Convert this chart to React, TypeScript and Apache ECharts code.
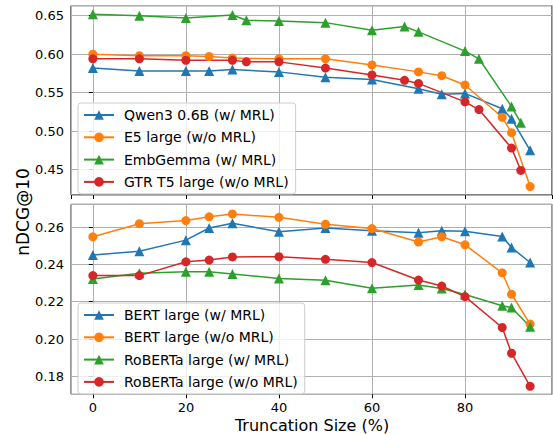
import React, { useEffect, useRef } from "react";
import * as echarts from "echarts";

// Top panel
const embGemmaX = [0, 10, 20, 30, 33, 40, 50, 60, 67, 70, 80, 83, 90, 92];
const embGemmaY = [0.652, 0.650, 0.647, 0.651, 0.644, 0.643, 0.641, 0.631, 0.636, 0.629, 0.604, 0.594, 0.532, 0.511];
const e5X = [0, 10, 20, 25, 30, 40, 50, 60, 70, 75, 80, 88, 90, 94];
const e5Y = [0.600, 0.598, 0.598, 0.597, 0.595, 0.594, 0.594, 0.586, 0.577, 0.572, 0.560, 0.518, 0.498, 0.428];
const gtrX = [0, 10, 20, 30, 33, 40, 50, 60, 67, 70, 80, 83, 90, 92];
const gtrY = [0.594, 0.594, 0.592, 0.592, 0.590, 0.590, 0.582, 0.573, 0.566, 0.562, 0.538, 0.528, 0.478, 0.449];
const qwenX = [0, 10, 20, 25, 30, 40, 50, 60, 70, 75, 80, 88, 90, 94];
const qwenY = [0.582, 0.578, 0.578, 0.578, 0.580, 0.577, 0.570, 0.567, 0.555, 0.548, 0.549, 0.529, 0.516, 0.475];

// Bottom panel
const bertX = [0, 10, 20, 25, 30, 40, 50, 60, 70, 75, 80, 88, 90, 94];
const bertMrlY = [0.245, 0.247, 0.253, 0.2595, 0.262, 0.2575, 0.2595, 0.258, 0.257, 0.258, 0.2578, 0.255, 0.249, 0.241];
const bertNoY = [0.2548, 0.2618, 0.2635, 0.2655, 0.267, 0.2652, 0.2615, 0.2592, 0.252, 0.2548, 0.2505, 0.2355, 0.224, 0.208];
const robertaMrlY = [0.2322, 0.2352, 0.236, 0.236, 0.2348, 0.2325, 0.2315, 0.2272, 0.2289, 0.2271, 0.2239, 0.2178, 0.2169, 0.2066];
const robertaNoY = [0.234, 0.234, 0.2414, 0.2423, 0.244, 0.2441, 0.2427, 0.241, 0.2316, 0.2284, 0.2227, 0.2062, 0.1924, 0.1747];

const topNames = ["Qwen3 0.6B (w/ MRL)", "E5 large (w/o MRL)", "EmbGemma (w/ MRL)", "GTR T5 large (w/o MRL)"];
const bottomNames = ["BERT large (w/ MRL)", "BERT large (w/o MRL)", "RoBERTa large (w/ MRL)", "RoBERTa large (w/o MRL)"];

const BLUE = "#1f77b4";
const ORANGE = "#ff7f0e";
const GREEN = "#2ca02c";
const RED = "#d62728";
const FONT = "DejaVu Sans";

function zip(xs: number[], ys: number[]) {
  return xs.map((x, i) => [x, ys[i]]);
}

function mkSeries(name: string, xs: number[], ys: number[], color: string, tri: boolean, idx: number) {
  return {
    type: "line",
    name,
    xAxisIndex: idx,
    yAxisIndex: idx,
    data: zip(xs, ys),
    symbol: tri ? "triangle" : "circle",
    symbolSize: tri ? 10 : 9,
    showAllSymbol: true,
    color,
    lineStyle: { color, width: 1.5 },
    itemStyle: { color, borderWidth: 0 },
  };
}

export default function App() {
  const ref = useRef<HTMLDivElement>(null);
  useEffect(() => {
    document.body.style.margin = "0";
    const chart = echarts.init(ref.current!, undefined, { renderer: "svg" });
    const gridLine = { show: true, lineStyle: { color: "#b0b0b0", width: 1 } };
    const tickStyle = { show: true, inside: false, length: 4, lineStyle: { color: "#000" } };
    const xCommon = {
      type: "value",
      min: -4.7,
      max: 98.7,
      splitLine: gridLine,
      axisLine: { show: false },
      axisTick: tickStyle,
    };
    const legendCommon = {
      orient: "vertical",
      left: 78,
      itemWidth: 30,
      itemHeight: 12,
      itemGap: 8.3,
      padding: [5, 7, 5, 5],
      backgroundColor: "rgba(255,255,255,0.8)",
      borderColor: "#cccccc",
      borderWidth: 1,
      borderRadius: 3,
      textStyle: { fontFamily: FONT, fontSize: 14, color: "#000", padding: [0, 0, 0, 5] },
    };
    chart.setOption({
      animation: false,
      grid: [
        { left: 71, top: 5.7, width: 481, height: 189.3, show: true, borderColor: "#000", borderWidth: 1, backgroundColor: "transparent" },
        { left: 71, top: 204.3, width: 481, height: 190, show: true, borderColor: "#333", borderWidth: 1, backgroundColor: "transparent" },
      ],
      xAxis: [
        { ...xCommon, gridIndex: 0, axisLabel: { show: false } },
        {
          ...xCommon,
          gridIndex: 1,
          axisLabel: {
            show: true,
            showMinLabel: false,
            showMaxLabel: false,
            fontFamily: FONT,
            fontSize: 13,
            lineHeight: 13,
            color: "#000",
            margin: 7,
          },
        },
      ],
      yAxis: [
        {
          type: "value",
          gridIndex: 0,
          min: 0.417,
          max: 0.663,
          splitLine: gridLine,
          axisLine: { show: false },
          axisTick: tickStyle,
          axisLabel: {
            showMinLabel: false,
            showMaxLabel: false,
            fontFamily: FONT,
            fontSize: 13,
            color: "#000",
            margin: 7,
            formatter: (v: number) => v.toFixed(2),
          },
        },
        {
          type: "value",
          gridIndex: 1,
          min: 0.1704,
          max: 0.2722,
          splitLine: gridLine,
          axisLine: { show: false },
          axisTick: tickStyle,
          axisLabel: {
            showMinLabel: false,
            showMaxLabel: false,
            fontFamily: FONT,
            fontSize: 13,
            color: "#000",
            margin: 7,
            formatter: (v: number) => v.toFixed(2),
          },
        },
      ],
      legend: [
        { ...legendCommon, top: 103, data: topNames },
        { ...legendCommon, top: 303, data: bottomNames },
      ],
      series: [
        mkSeries(topNames[0], qwenX, qwenY, BLUE, true, 0),
        mkSeries(topNames[1], e5X, e5Y, ORANGE, false, 0),
        mkSeries(topNames[2], embGemmaX, embGemmaY, GREEN, true, 0),
        mkSeries(topNames[3], gtrX, gtrY, RED, false, 0),
        mkSeries(bottomNames[0], bertX, bertMrlY, BLUE, true, 1),
        mkSeries(bottomNames[1], bertX, bertNoY, ORANGE, false, 1),
        mkSeries(bottomNames[2], bertX, robertaMrlY, GREEN, true, 1),
        mkSeries(bottomNames[3], bertX, robertaNoY, RED, false, 1),
      ],
      graphic: [
        {
          type: "text",
          x: 23,
          y: 212,
          rotation: Math.PI / 2,
          style: { text: "nDCG@10", fontFamily: FONT, fontSize: 17, fill: "#000", align: "center", verticalAlign: "middle" },
        },
        {
          type: "text",
          x: 312,
          y: 425,
          style: { text: "Truncation Size (%)", fontFamily: FONT, fontSize: 16, fill: "#000", align: "center", verticalAlign: "middle" },
        },
      ],
    });
    return () => chart.dispose();
  }, []);
  return <div ref={ref} style={{ width: 553, height: 434 }} />;
}
